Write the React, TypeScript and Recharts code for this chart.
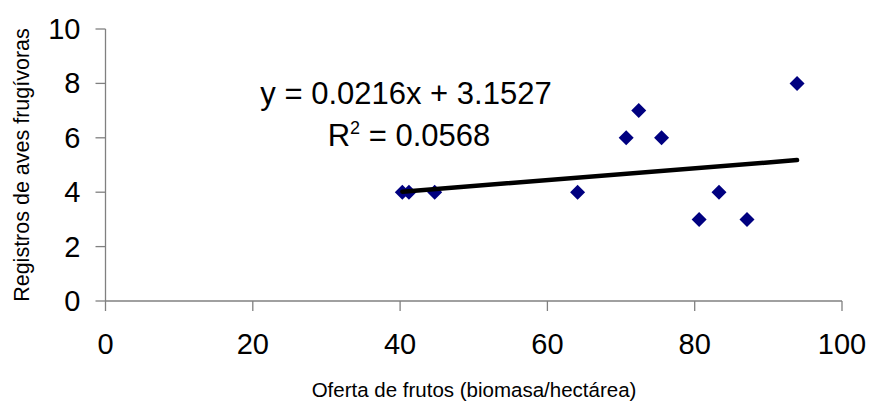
import React from 'react';
import { ScatterChart, Scatter, XAxis, YAxis, Label } from 'recharts';

// Oferta de frutos vs registros de aves frugívoras
const ofertaFrutos = [40.3, 41.2, 44.7, 64.1, 70.7, 72.4, 75.5, 80.6, 83.3, 87.1, 93.9];
const registrosAves = [4, 4, 4, 4, 6, 7, 6, 3, 4, 3, 8];

// linear trendline end points
const trendX = [40.3, 93.9];
const trendY = [4.02, 5.18];

const xTicks = [0, 20, 40, 60, 80, 100];
const yTicks = [0, 2, 4, 6, 8, 10];

const ecuacion = 'y = 0.0216x + 3.1527';
const r2Valor = '0.0568';

const FONT = '"Liberation Sans", Arial, sans-serif';
const AXIS_GREY = '#808080';

const puntos = ofertaFrutos.map((x, i) => ({ x, y: registrosAves[i] }));
const tendencia = trendX.map((x, i) => ({ x, y: trendY[i] }));

const Diamond = (props: any) => {
  const { cx, cy } = props;
  const r = 7.5;
  return (
    <path
      d={`M${cx},${cy - r}L${cx + r},${cy}L${cx},${cy + r}L${cx - r},${cy}Z`}
      fill="#000080"
    />
  );
};

// y tick labels sit a bit further from the tick marks
const YTick = (props: any) => {
  const { x, y, payload } = props;
  return (
    <text x={x - 13} y={y} textAnchor="end" dominantBaseline="central" fontSize={29} fontFamily={FONT} fill="#000">
      {payload.value}
    </text>
  );
};

export default function App() {
  return (
    <div style={{ position: 'relative', width: 869, height: 403, background: '#fff', fontFamily: FONT }}>
      <style>{`body { margin: 0; }`}</style>
      <ScatterChart
        width={869}
        height={403}
        margin={{ top: 29, right: 27, bottom: 42, left: 25.5 }}
      >
        <XAxis
          type="number"
          dataKey="x"
          domain={[0, 100]}
          ticks={xTicks}
          interval={0}
          height={60}
          stroke={AXIS_GREY}
          strokeWidth={1.3}
          tickSize={10}
          tickMargin={22}
          tick={{ fill: '#000', fontSize: 29, fontFamily: FONT }}
        >
          <Label
            content={() => (
              <text x={474} y={397} textAnchor="middle" fontSize={20.5} fontFamily={FONT} fill="#000">
                Oferta de frutos (biomasa/hectárea)
              </text>
            )}
          />
        </XAxis>
        <YAxis
          type="number"
          dataKey="y"
          domain={[0, 10]}
          ticks={yTicks}
          interval={0}
          width={80}
          stroke={AXIS_GREY}
          strokeWidth={1.3}
          tickSize={10}
          tick={<YTick />}
        >
          <Label
            content={() => (
              <text
                x={22}
                y={165}
                transform="rotate(-90 22 165)"
                textAnchor="middle"
                dominantBaseline="central"
                fontSize={21.5}
                fontFamily={FONT}
                fill="#000"
              >
                Registros de aves frugívoras
              </text>
            )}
          />
        </YAxis>
        <Scatter data={puntos} shape={<Diamond />} isAnimationActive={false} />
        <Scatter
          data={tendencia}
          line={{ stroke: '#000', strokeWidth: 4.5, strokeLinecap: 'round' }}
          shape={() => <g />}
          isAnimationActive={false}
        />
      </ScatterChart>
      <div
        style={{
          position: 'absolute',
          left: 256,
          width: 300,
          top: 79,
          textAlign: 'center',
          fontSize: 31,
          lineHeight: '30px',
          color: '#000',
          whiteSpace: 'nowrap',
        }}
      >
        {ecuacion}
      </div>
      <div
        style={{
          position: 'absolute',
          left: 259,
          width: 300,
          top: 121,
          textAlign: 'center',
          fontSize: 31,
          lineHeight: '30px',
          color: '#000',
          whiteSpace: 'nowrap',
        }}
      >
        R<sup style={{ fontSize: 18, verticalAlign: 'top', lineHeight: '14px' }}>2</sup> = {r2Valor}
      </div>
    </div>
  );
}
